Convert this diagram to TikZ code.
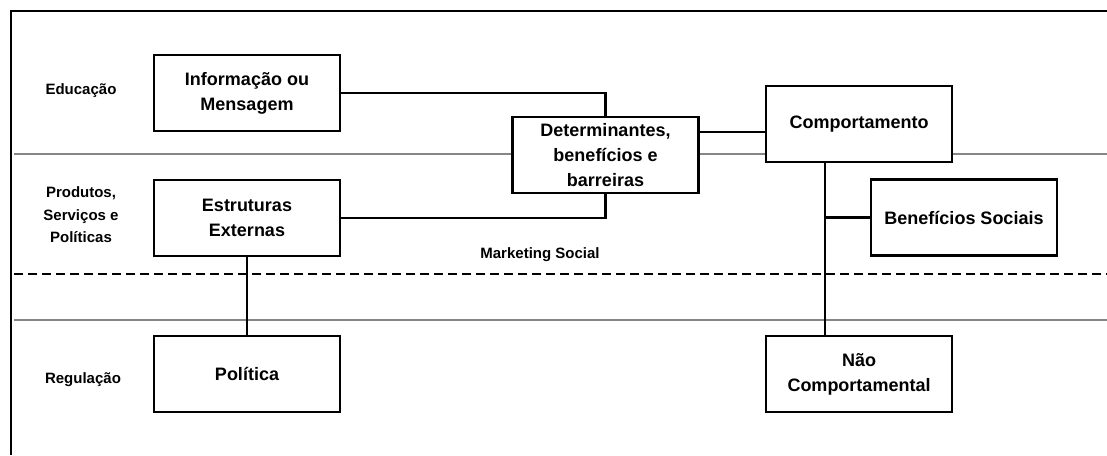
\documentclass[tikz,border=0pt]{standalone}
\usepackage{fontspec}
\setmainfont{Liberation Sans}
\usepackage{tikz}
\usetikzlibrary{positioning,calc}

\begin{document}
\begin{tikzpicture}[x=1pt, y=-1pt,
    caixa/.style={draw, line width=2.2pt, fill=white, minimum width=186pt, minimum height=76pt,
                  inner sep=0pt, align=center, font=\bfseries\fontsize{18}{25}\selectfont},
    rotulo/.style={align=center, font=\bfseries\fontsize{15}{22.5}\selectfont},
    ligacao/.style={line width=2.6pt},
    faixa/.style={line width=1.6pt, gray!95}]
    \useasboundingbox (0,0) rectangle (1107,455);
    % moldura e faixas
    \draw[line width=2.4pt] (11,455) -- (11,11) -- (1107,11);
    \draw[faixa] (14,154) -- (1107,154);
    \draw[faixa] (14,320) -- (1107,320);
    \draw[line width=2.6pt, dash pattern=on 9pt off 5pt] (14,274) -- (1107,274);
    % rotulos
    \node[rotulo] (educ) at (81,91) {Educação};
    \node[rotulo] (prod) at (81,215) {Produtos,\\Serviços e\\Políticas};
    \node[rotulo] (regul) at (83,380) {Regulação};
    \node[rotulo] (mkt) at (540,255) {Marketing Social};
    % caixas
    \node[caixa] (info) at (247,93) {Informação ou\\Mensagem};
    \node[caixa] (estrut) at (247,218) {Estruturas\\Externas};
    \node[caixa] (politica) at (247,374) {Política};
    \node[caixa] (determ) at (605.5,155) {Determinantes,\\benefícios e\\barreiras};
    \node[caixa] (comport) at (859,124) {Comportamento};
    \node[caixa] (benef) at (964,217.5) {Benefícios Sociais};
    \node[caixa] (naocomp) at (859,374) {Não\\Comportamental};
    \coordinate (ramo) at (825,217.5);
    % ligacoes
    \draw[ligacao] (info.east) -| (determ.north);
    \draw[ligacao] (estrut.east) -| (determ.south);
    \draw[ligacao] ([yshift=23pt]determ.east) -- ([yshift=23pt]determ.east -| comport.west);
    \draw[ligacao] ([xshift=-34pt]comport.south) -- ([xshift=-34pt]naocomp.north);
    \draw[ligacao] (ramo) -- (benef.west);
    \draw[ligacao] (estrut.south) -- (politica.north);
\end{tikzpicture}
\end{document}
